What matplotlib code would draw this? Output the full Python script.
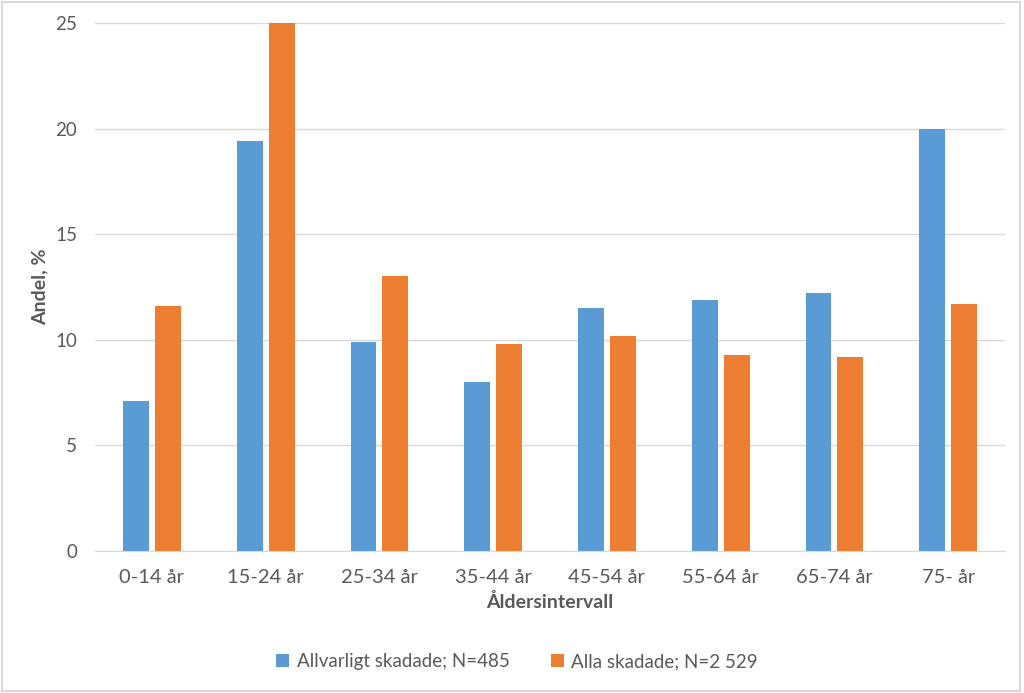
from matplotlib import pyplot as plt
from matplotlib.patches import Rectangle
import numpy as np

categories = ['0-14 år', '15-24 år', '25-34 år', '35-44 år', '45-54 år', '55-64 år', '65-74 år', '75- år']
allvarligt = [7.1, 19.4, 9.9, 8.0, 11.5, 11.9, 12.2, 20.0]
alla = [11.6, 25.0, 13.0, 9.8, 10.2, 9.3, 9.2, 11.7]
yticks = [0, 5, 10, 15, 20, 25]

plt.rcParams['font.family'] = ['Lato', 'DejaVu Sans']
text_col = '#595959'
grid_col = '#D9D9D9'

fig = plt.figure(figsize=(10.24, 6.93), dpi=100)
ax = fig.add_axes([0.0928, 0.2049, 0.8887, 0.7619])

x = np.arange(len(categories))
w = 0.228
ax.bar(x - 0.14, allvarligt, w, color='#5B9BD5', label='Allvarligt skadade; N=485', zorder=3)
ax.bar(x + 0.14, alla, w, color='#ED7D31', label='Alla skadade; N=2 529', zorder=3)

ax.set_xlim(-0.5, len(categories) - 0.5)
ax.set_ylim(0, 25)
ax.set_yticks(yticks)
ax.set_xticks(x)
ax.set_xticklabels(categories)
ax.yaxis.grid(True, color=grid_col, linewidth=1, zorder=0)
ax.tick_params(axis='both', length=0, labelsize=13.5, colors=text_col)
ax.tick_params(axis='x', labelsize=14.5, pad=13)
ax.tick_params(axis='y', pad=13)
for s in ['top', 'right', 'left']:
    ax.spines[s].set_visible(False)
ax.spines['bottom'].set_color(grid_col)
ax.spines['bottom'].set_zorder(4)

ax.set_xlabel('Åldersintervall', fontsize=14, fontweight='bold', color=text_col, labelpad=5)
ax.set_ylabel('Andel, %', fontsize=14, fontweight='bold', color=text_col, labelpad=5)

fig.legend(loc='center', bbox_to_anchor=(0.505, 0.045), ncol=2, frameon=False,
           fontsize=13.5, handlelength=0.7, handleheight=0.7, handletextpad=0.4,
           columnspacing=2.2, labelcolor=text_col)

fig.patches.append(Rectangle((0.002, 0.003), 0.994, 0.994, transform=fig.transFigure,
                             fill=False, edgecolor=grid_col, linewidth=1.5))

plt.savefig('out.png', dpi=100)
